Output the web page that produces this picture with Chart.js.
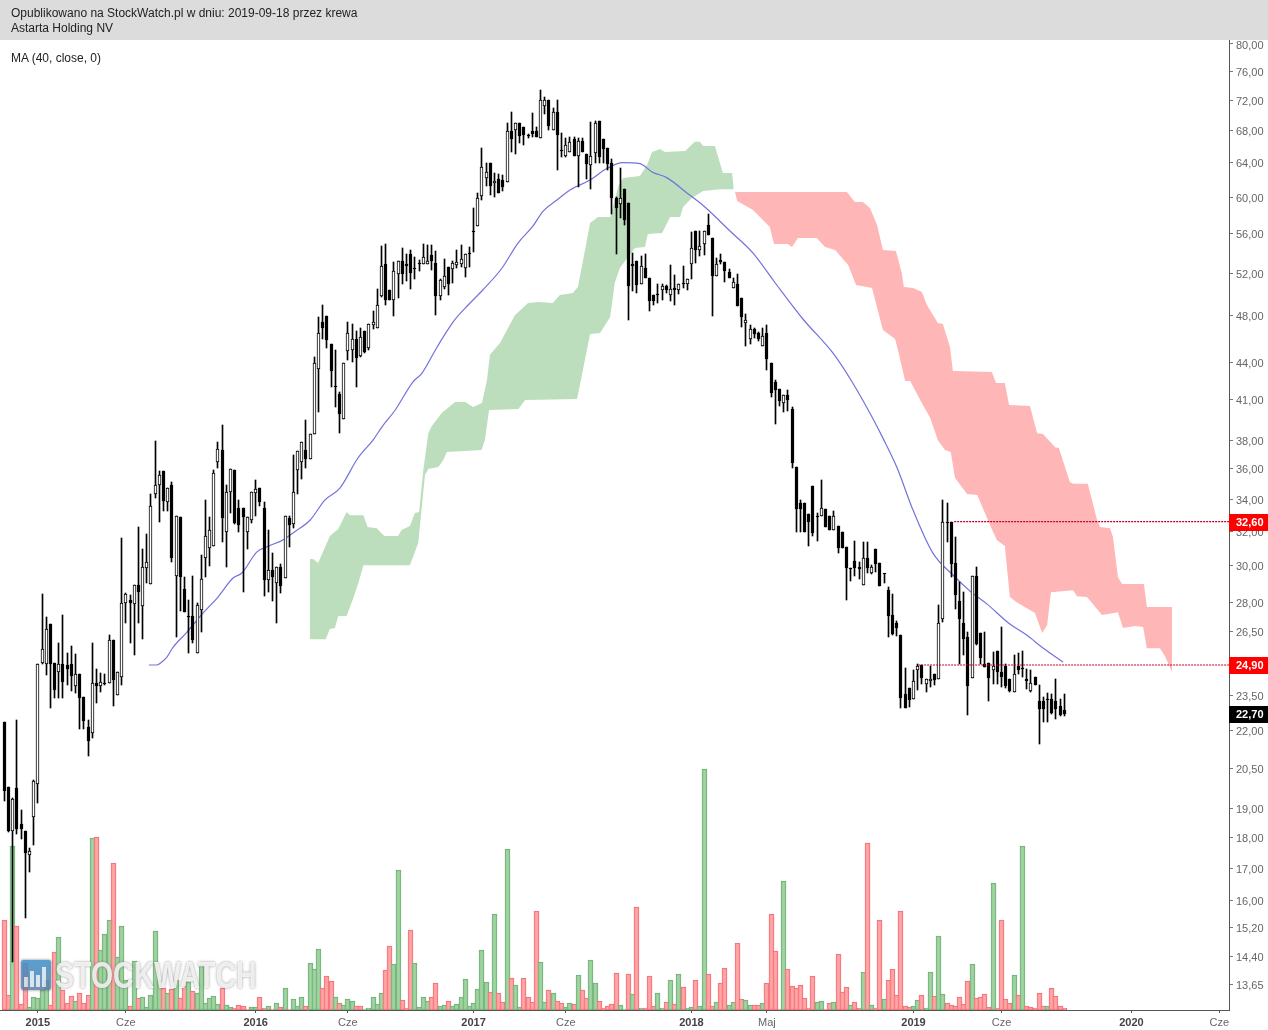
<!DOCTYPE html>
<html lang="pl">
<head>
<meta charset="utf-8">
<title>Astarta Holding NV</title>
<script src="https://cdn.jsdelivr.net/npm/chart.js@4"></script>
<style>
  html, body { margin: 0; padding: 0; background: #fff; }
  #wrap { position: relative; width: 1268px; height: 1030px; overflow: hidden; font-family: "Liberation Sans", Arial, sans-serif; }
  #chart { position: absolute; left: 0; top: 0; }
  #head { position: absolute; left: 0; top: 0; width: 1268px; height: 40px; background: #dcdcdc; color: #222; font-size: 12px; line-height: 15px; }
  #head div { position: absolute; left: 11px; white-space: nowrap; }
  #ma { position: absolute; left: 11px; top: 51px; font-size: 12px; line-height: 15px; color: #222; }
  #logo { position: absolute; left: 21px; top: 960px; width: 30px; height: 30px; border-radius: 2px; opacity: .85;
    background: linear-gradient(#3d8ec8, #5a7fa8); box-shadow: 0 0 3px rgba(70,70,70,.8); }
  #logo i { position: absolute; bottom: 3px; width: 4px; background: rgba(255,255,255,.75); }
  #mark { position: absolute; left: 55px; top: 955px; font-size: 37px; line-height: 42px; font-weight: bold; white-space: nowrap;
    color: rgba(255,255,255,.82); text-shadow: 0 0 3px rgba(90,90,90,.65); transform: scaleX(.77); transform-origin: 0 0; }
</style>
</head>
<body>
<div id="wrap">
  <canvas id="chart" width="1268" height="1030"></canvas>
  <div id="head">
    <div style="top:6px">Opublikowano na StockWatch.pl w dniu: 2019-09-18 przez krewa</div>
    <div style="top:21px">Astarta Holding NV</div>
  </div>
  <div id="ma">MA (40, close, 0)</div>
  <div id="logo"><i style="left:3px;height:10px"></i><i style="left:9px;height:16px"></i><i style="left:15px;height:12px"></i><i style="left:21px;height:20px"></i></div>
  <div id="mark">STOCKWATCH</div>
</div>
<script>
// Wartosci, tygodnie 0..253
const openPrices = [
  22.37,19.79,18.22,19.75,18.47,18.22,17.42,18.71,19.91,24.99,
  24.94,26.89,24.99,24.57,24.94,24.89,24.94,23.93,24.47,23.44,
  22.16,21.91,24.06,23.93,24.06,24.06,26.09,23.53,24.34,27.97,
  28.13,27.92,28.93,27.81,29.87,29.0,34.33,34.92,35.85,33.82,
  34.92,29.43,32.89,28.71,27.3,27.3,25.47,27.61,30.45,31.03,
  31.14,36.46,37.29,31.97,34.46,35.92,33.44,33.44,31.97,32.7,
  34.39,34.72,33.44,29.21,29.76,29.05,29.93,29.32,32.82,32.45,
  35.92,36.46,37.29,36.67,38.43,43.43,47.44,48.0,45.52,42.0,
  41.43,39.54,44.92,45.01,45.95,44.5,46.64,45.18,47.17,46.9,
  49.81,52.91,50.38,49.44,51.92,53.2,52.91,53.91,52.44,52.93,
  52.91,52.91,53.81,53.0,49.81,50.67,52.6,52.41,52.81,52.91,
  52.51,54.01,56.2,56.83,60.12,62.18,63.97,61.6,62.06,61.95,
  61.72,67.93,68.06,68.96,68.44,67.43,67.93,67.93,67.05,71.15,
  72.0,68.06,70.43,65.45,64.82,65.3,66.92,64.82,66.67,65.05,
  63.73,65.18,69.22,66.92,65.79,63.97,59.89,59.23,60.91,59.34,
  52.91,53.2,50.96,52.51,51.53,49.91,49.93,50.38,50.77,49.91,
  50.58,50.38,51.05,50.96,52.91,56.29,54.32,54.93,56.93,55.56,
  51.72,53.3,53.1,52.11,50.58,50.96,49.63,47.35,45.95,46.82,
  46.47,45.35,46.47,43.92,42.38,41.83,40.74,41.36,40.28,36.12,
  33.76,33.76,33.07,34.85,32.91,32.95,33.38,32.95,32.09,32.33,
  31.97,31.08,29.87,30.28,29.93,28.93,30.45,29.6,30.97,30.16,
  29.56,28.66,27.35,26.94,26.34,23.57,23.84,23.35,24.66,24.89,
  24.02,24.15,24.47,24.25,27.14,32.58,32.58,30.16,28.08,26.94,
  26.24,24.29,29.43,26.44,24.94,24.99,24.66,25.56,24.57,24.85,
  24.25,23.66,24.85,24.77,24.25,23.71,24.34,23.27,23.27,23.37,
  23.35,23.27,23.05,22.87
];
const closePrices = [
  19.64,18.22,19.35,18.29,18.29,17.49,17.56,20.02,24.94,25.66,
  26.64,24.94,23.75,24.94,24.11,24.7,24.38,24.47,23.4,22.41,
  21.58,24.06,23.93,24.11,24.02,26.09,24.2,24.57,27.97,28.45,
  27.97,28.93,28.55,29.93,30.22,33.57,34.92,35.58,33.88,34.72,
  30.45,32.95,29.37,27.5,27.27,26.09,27.87,29.26,31.73,32.09,
  35.72,37.36,32.82,34.46,35.99,32.52,32.4,32.89,32.89,34.46,
  34.65,33.82,29.21,29.76,29.37,29.93,28.88,32.95,32.4,34.46,
  37.22,37.86,36.67,38.43,43.92,46.47,46.9,45.86,43.27,41.95,
  39.9,43.92,46.47,45.95,44.34,46.12,44.84,47.26,47.44,48.98,
  52.71,49.44,49.44,52.21,53.2,51.92,52.71,52.02,52.38,52.88,
  53.6,53.2,53.2,49.81,51.34,51.72,50.96,53.0,53.1,53.4,
  53.91,53.91,56.14,59.89,63.49,62.89,61.26,61.83,60.45,61.14,
  67.93,66.92,68.96,67.3,67.43,67.3,67.55,67.17,72.0,72.0,
  68.57,70.43,67.43,65.38,66.17,66.55,64.82,66.67,65.3,63.85,
  64.82,68.96,64.7,65.67,63.85,59.89,58.78,59.89,57.47,50.77,
  52.71,50.87,52.71,51.53,49.35,49.35,49.89,50.77,50.38,50.48,
  50.38,50.96,50.96,51.43,54.52,54.32,54.73,56.29,55.88,51.72,
  52.91,53.1,52.21,51.53,51.14,48.89,47.89,47.62,46.82,46.38,
  45.95,46.21,44.25,41.52,41.75,40.89,41.36,40.97,36.39,33.38,
  33.38,31.97,32.58,31.91,32.87,33.44,32.27,32.09,32.95,31.03,
  31.03,29.87,29.82,29.87,29.82,30.45,29.87,29.93,30.1,28.88,
  29.52,27.3,26.39,26.69,23.4,22.96,23.31,24.15,24.85,24.29,
  24.25,24.25,24.2,26.94,32.58,32.52,30.1,28.39,27.14,26.14,
  23.93,29.43,25.9,25.23,24.8,24.29,24.85,24.57,24.34,23.93,
  23.71,24.47,24.66,24.73,24.15,24.06,23.97,22.92,22.92,23.33,
  22.75,22.92,22.66,22.7
];
const highPrices = [
  22.37,19.79,19.39,22.45,18.96,18.22,17.66,20.06,24.94,28.45,
  27.25,26.89,24.99,25.95,27.35,25.47,25.8,25.42,24.47,23.44,
  22.45,25.95,24.7,24.52,24.47,26.34,26.09,24.57,31.61,28.5,
  28.39,28.93,32.27,30.97,31.85,34.33,37.93,35.85,35.85,34.72,
  35.12,32.95,32.89,29.37,28.13,29.43,27.97,30.62,33.95,32.89,
  35.92,37.86,39.09,34.92,35.99,35.92,33.95,33.44,32.89,34.46,
  35.25,34.72,33.82,32.09,30.74,29.93,30.1,32.95,32.95,36.94,
  37.22,37.86,39.46,38.43,44.42,47.89,48.98,48.0,45.52,45.01,
  41.59,43.92,47.44,47.26,46.64,46.9,46.64,47.26,48.43,50.48,
  54.73,54.93,50.38,53.1,53.2,54.52,53.91,54.32,53.6,53.3,
  54.93,54.83,54.83,54.22,51.43,53.4,52.6,53.2,54.32,54.83,
  53.91,54.62,58.78,60.45,65.79,63.97,63.97,62.77,62.65,62.53,
  68.96,70.43,68.96,68.96,68.44,67.55,70.26,68.44,73.37,72.43,
  72.0,70.93,72.0,67.68,67.05,67.17,67.17,67.05,67.05,65.05,
  69.09,69.22,69.22,66.92,65.79,64.45,60.0,63.37,60.91,59.34,
  54.01,53.2,53.7,53.91,51.53,49.91,50.96,50.96,50.87,52.8,
  51.82,50.96,52.71,51.43,56.18,56.29,56.29,56.29,58.12,55.56,
  53.5,53.91,53.1,52.41,51.53,51.92,49.63,48.16,47.17,46.9,
  46.55,46.9,47.17,43.92,42.54,41.83,41.36,41.75,40.44,36.12,
  33.95,33.76,33.07,34.85,33.13,35.25,33.38,32.95,33.26,32.33,
  31.97,31.08,29.87,31.43,30.22,31.37,31.37,30.04,30.97,30.16,
  29.56,28.82,28.45,27.04,26.34,24.75,23.84,24.66,24.94,24.89,
  24.25,24.85,24.47,27.87,33.95,33.76,32.58,31.67,29.1,28.55,
  26.49,29.43,29.93,26.44,26.49,24.99,25.52,25.56,26.74,24.94,
  24.25,25.37,25.47,25.56,24.7,24.66,24.34,23.97,23.44,23.62,
  23.57,24.25,23.35,23.57
];
const lowPrices = [
  19.28,18.19,14.25,18.12,17.95,15.48,16.88,17.75,19.21,24.94,
  24.43,22.96,23.4,23.4,23.4,23.97,23.71,23.62,22.07,22.07,
  20.98,21.7,23.18,23.66,23.97,24.06,23.05,23.53,23.97,26.94,
  25.95,25.37,26.94,26.14,29.05,29.0,34.08,32.58,33.26,33.26,
  30.22,26.24,27.55,27.5,25.47,25.95,25.47,26.49,29.37,29.99,
  31.14,36.05,31.37,29.93,33.13,32.45,31.97,28.55,30.97,32.52,
  32.95,33.57,28.34,28.55,28.08,26.94,28.5,29.32,31.08,32.2,
  34.33,35.32,36.05,36.67,38.43,40.06,45.95,45.18,41.98,40.44,
  38.5,39.54,44.17,44.0,41.98,44.42,44.75,45.01,46.82,46.9,
  49.72,48.98,49.44,47.98,49.63,50.96,51.24,50.48,51.43,52.21,
  52.91,52.91,52.31,48.07,49.44,50.48,49.91,51.05,52.51,52.61,
  51.62,52.61,54.11,56.83,59.67,61.26,60.23,60.0,60.45,60.68,
  61.72,65.3,65.05,66.42,66.17,67.05,67.17,67.17,67.05,70.14,
  68.06,68.06,63.13,64.7,64.7,65.3,64.82,61.14,65.3,62.07,
  60.91,63.97,63.97,63.97,63.13,58.12,53.91,57.69,56.93,47.62,
  50.29,50.1,50.96,51.53,48.43,48.98,49.16,49.44,50.1,49.35,
  48.98,50.0,50.58,50.38,51.43,53.0,53.7,53.81,55.88,47.98,
  51.72,52.91,51.14,51.53,50.58,48.89,46.99,45.35,45.52,46.03,
  45.78,45.35,43.35,41.21,39.16,40.51,40.06,40.13,36.05,31.97,
  31.97,31.97,31.14,31.73,31.43,32.95,32.27,32.09,32.09,30.74,
  31.03,28.13,29.15,29.43,29.26,28.93,29.6,29.54,29.65,28.88,
  29.05,26.24,26.34,26.29,22.96,22.96,23.0,23.35,23.75,24.02,
  23.66,23.88,23.97,24.25,26.99,31.37,29.37,27.66,24.94,25.37,
  22.66,24.29,25.85,24.94,24.8,23.27,24.02,24.02,23.88,23.84,
  23.66,23.66,24.47,24.34,23.79,23.66,23.97,21.46,22.37,22.37,
  22.7,22.49,22.62,22.62
];

// Wolumen w jednostkach umownych (osi nie ma na wykresie)
const volumes = [
  90,15,164,84,6,47,3,13,12,20,
  30,5,58,73,20,7,14,9,17,7,
  15,172,173,60,76,90,147,53,84,30,
  4,49,12,13,3,15,79,30,22,17,
  21,30,12,24,28,19,17,45,7,12,
  14,6,22,5,3,2,5,4,1,3,
  3,13,2,4,1,7,3,22,1,11,
  4,13,4,47,41,61,22,34,29,13,
  7,5,11,9,4,4,0,2,13,6,
  17,40,64,46,140,10,2,80,47,3,
  13,9,13,27,4,5,9,4,6,13,
  31,4,7,21,60,28,18,96,17,8,
  161,32,25,3,32,13,8,99,48,8,
  20,17,9,7,3,7,6,35,20,12,
  50,27,9,2,4,6,37,5,1,36,
  16,103,2,2,34,4,17,2,8,30,
  6,36,23,2,3,30,4,241,36,4,
  8,27,42,5,8,67,11,10,5,5,
  5,7,27,96,59,1,129,41,24,22,
  25,12,2,34,8,9,1,7,8,56,
  18,23,5,8,2,38,167,5,2,90,
  11,30,41,15,99,4,3,4,10,15,
  2,38,14,74,16,7,5,4,13,6,
  29,46,12,13,16,3,127,2,90,11,
  7,35,15,164,4,3,2,17,4,4,
  22,14,4,2
];
const volumeSides = 'rrgrrrgggg' + 'grrgrrrgrr' + 'rgrgggrggg' + 'rgrgggggrg' + 'rgrrgrgggg' +
  'ggrggrrrrg' + 'grrgrgrgrg' + 'ggrgggrrrg' + 'rgggrrgggg' + 'grrggrrrgg' +
  'ggrrggrggg' + 'ggggggrgrr' + 'grggrrrrgg' + 'rgrrggrgrr' + 'ggrrrrrggr' +
  'grgrrrggrg' + 'rgrggrggrr' + 'grrggrrggr' + 'rgrrrrgrrr' + 'rrrrggrrgr' +
  'rrgrrgrgrr' + 'grrrrrrggr' + 'ggrggrrrrr' + 'rgrrrrgrrr' + 'rgrgrrrrrg' + 'rrrr';

// Srednia MA(40)
const maWeeks = [34.5,36.4,37.6,38.8,40.3,43.6,47.4,50.8,54.6,56.7,60.3,62.7,66.5,69.4,73,76.5,80.1,84.4,88,90.1,93.3,97.5,99.7,103.3,107.1,110.7,114.2,118.8,122.6,126.2,128.6,131.9,135,139.8,143.8,147.7,151.7,154.6,158.2,163,167.2,173.2,178.7,184,190.6,197.8,202.5,207.1,209.7,213.1,216.6,221.6,226.4,230.5,234.5,240,244,247.9,252.7];
const maPrices = [24.9,24.9,25.04,25.27,25.75,26.49,27.45,28.24,29.32,29.6,30.8,31.1,31.5,32,32.7,33.95,34.72,36.74,38,38.94,40.21,42.38,43.1,45.27,47.44,48.98,50.38,52.51,55.03,56.83,58.44,59.67,60.8,61.95,63.3,64,63.9,62.9,62.2,60.44,58.89,56.29,54,51.05,47.71,44.74,42.3,39.68,38.14,36.06,33.5,30.74,29.49,28.61,27.93,26.89,26.34,25.71,25.04];

// Chmura - czesc zielona
const greenTopWeeks = [72.9,73.7,74.9,77.7,79.7,81.7,82.5,85.7,86.7,88.9,90.7,94,94.8,96.8,98,99,100,101.2,102,104.4,107.6,110,111.9,114,115.2,115.9,118.3,121.9,125,127.4,130.9,132.6,135.7,136.9,138.6,139.8,141.7,144.6,146.5,147.7,151.7,153.4,154.6,156.5,157.7,162.5,164.8,166,166.8,169.6,171.5,173.7,174.1];
const greenTopPrices = [30.39,30.39,30.16,31.73,32.15,33.2,33,33,32.27,32.2,31.73,31.73,32.09,32.33,33.13,33.2,35.92,38.5,39,39.98,40.82,40.82,40.43,40.74,42.54,44.6,45.6,48.07,49.16,49.25,49.16,49.9,50.1,50.67,54.32,57.14,57.8,57.8,61.14,62.2,62.43,63.73,65.3,65.67,65.3,65.43,66.56,66.56,66.05,66.05,62.77,62.77,60.9];
const greenBottomWeeks = [72.9,76.7,77.7,78.9,79.7,81.7,83.3,84.5,85.7,96.8,98.8,99.5,100.4,101.2,103.6,104.8,105.6,113.9,114.7,115.7,122.7,124.3,136.7,138.1,139.8,142.2,144.6,145.7,146.9,150.5,152.9,153.6,157,158.9,161.3,162,164.1,166.8,170.8,174.1];
const greenBottomPrices = [26.14,26.14,26.64,26.69,27.3,27.3,28.24,29.05,30.04,30.04,31.31,33.13,35.58,35.99,36.12,36.6,37.15,37.29,38,40.21,40.28,40.97,41.05,43.35,46.38,46.47,47.89,51.05,52.51,54.52,54.63,55.98,56.08,57.8,57.8,58.89,59.89,60.68,60.9,60.9];

// Chmura - czesc czerwona
const redTopWeeks = [174.4,201.1,203,204.9,206.6,208.3,209.7,212.8,214.2,214.7,216.9,219,220.2,222.8,224,225.7,226.4,235.7,236.7,238.8,239.8,244.8,246.5,247.9,250.8,251.7,254.3,255.1,258.6,260.8,261.5,263.9,264.6,265.8,266.8,272,272.7,278.7];
const redTopPrices = [60.56,60.56,59.45,59.45,58.78,56.93,54.32,54.21,52.02,50.67,50.58,50.2,48.98,47.35,47.26,45.27,43.27,43.19,42.3,42.3,40.59,40.51,38.5,38.43,37.5,37.43,35.12,35,35,32.7,32.27,32.2,31.67,29.37,29,29,27.77,27.77];
const redBottomWeeks = [174.4,174.9,178.7,182.7,183.7,187,188,189.4,193.9,195.9,198.3,201.4,203.3,207.1,209.7,212.6,213.3,215,216.2,218.6,221,222.8,224.5,225.9,226.9,229.8,232.2,236,236.9,238.8,240,241.7,246,247.7,248.9,249.8,255.1,256,258.4,262,265.8,267,269.9,271.8,272.7,275.8,277,278.7];
const redBottomPrices = [60.56,59.56,58.56,56.72,54.92,54.92,54.62,55.56,55.56,54.62,54.32,52.8,50.87,50.58,46.73,45.95,45.01,42.46,42.46,40.97,39.61,38,37.29,37.15,35.38,34.33,34.27,31.97,31.49,31.14,28.29,28,27.46,26.44,26.84,28.55,28.66,28.34,28.29,27.35,27.5,26.69,26.79,26.74,25.7,25.7,25.32,24.57];

// Poziomy, etykiety na osi
const levelPrices = [32.6, 24.9];
const levelStartWeeks = [226.7, 218.1];
const priceBadges = [32.6, 24.9, 22.7];
const badgeColors = ['#ff0000', '#ff0000', '#000000'];

const priceTicks = [80,76,72,68,64,60,56,52,48,44,41,38,36,34,32,30,28,26.5,23.5,22,20.5,19,18,17,16,15.2,14.4,13.65];
const timeTickWeeks = [8,29,60,82,112,134,164,182,217,238,269,290];
const timeTickLabels = ['2015','Cze','2016','Cze','2017','Cze','2018','Maj','2019','Cze','2020','Cze'];

const FONT = '"Liberation Sans", Arial, sans-serif';
const fmt = v => v.toFixed(2).replace('.', ',');
const toPoints = (xs, ys) => xs.map((x, i) => ({ x, y: ys[i] }));
const weeks = openPrices.map((_, i) => i);
const isYearTick = ctx => !!ctx.tick && /^\d/.test(ctx.tick.label);

// Kreski na pelne piksele, inaczej swiece sie rozmywaja
const snapBars = {
  id: 'snapBars',
  afterDatasetsUpdate(chart) {
    chart.getSortedVisibleDatasetMetas().forEach(meta => {
      if (meta.type !== 'bar') return;
      meta.data.forEach(el => {
        el.x = Math.floor(el.x) + 0.5;
        el.y = Math.round(el.y);
        el.base = Math.round(el.base);
        if (el.y === el.base) el.y -= 1;
      });
    });
  },
};

// Etykiety osi cen leza w oryginale nieco nizej niz kreski
const nudgeLabels = {
  id: 'nudgeLabels',
  beforeDraw(chart) {
    chart.scales.y.getLabelItems().forEach(item => { item.options.translation[1] += 1.5; });
  },
};

const badges = {
  id: 'badges',
  afterDraw(chart) {
    const { ctx, scales, chartArea } = chart;
    ctx.save();
    ctx.font = 'bold 11px ' + FONT;
    ctx.textBaseline = 'middle';
    priceBadges.forEach((p, i) => {
      const y = Math.round(scales.y.getPixelForValue(p));
      ctx.fillStyle = badgeColors[i];
      ctx.fillRect(chartArea.right, y - 8, 1268 - chartArea.right, 17);
      ctx.fillStyle = '#fff';
      ctx.fillText(fmt(p), chartArea.right + 7, y + 1);
    });
    ctx.restore();
  },
};

const datasets = [
  {
    type: 'bar', yAxisID: 'yVol', order: 9, barThickness: 5, borderWidth: 1, borderSkipped: false,
    data: volumes.map((v, i) => ({ x: i, y: v })),
    backgroundColor: volumes.map((_, i) => volumeSides[i] === 'g' ? 'rgba(145,205,145,.85)' : 'rgba(255,150,150,.85)'),
    borderColor: volumes.map((_, i) => volumeSides[i] === 'g' ? '#74b07b' : '#f0727a'),
  },
  {
    type: 'line', order: 8, data: toPoints(greenTopWeeks, greenTopPrices), fill: '+1',
    backgroundColor: '#bcdebc', borderWidth: 0, pointRadius: 0,
  },
  {
    type: 'line', order: 8, data: toPoints(greenBottomWeeks, greenBottomPrices),
    borderWidth: 0, pointRadius: 0,
  },
  {
    type: 'line', order: 7, data: toPoints(redTopWeeks, redTopPrices), fill: '+1',
    backgroundColor: '#ffb6b6', borderWidth: 0, pointRadius: 0,
  },
  {
    type: 'line', order: 7, data: toPoints(redBottomWeeks, redBottomPrices),
    borderWidth: 0, pointRadius: 0,
  },
  {
    type: 'line', order: 6, data: toPoints(maWeeks, maPrices), cubicInterpolationMode: 'monotone',
    borderColor: '#7272dc', borderWidth: 1.2, pointRadius: 0,
  },
  {
    type: 'bar', order: 3, barThickness: 1, backgroundColor: '#000', borderWidth: 0,
    data: weeks.map(i => ({ x: i, y: [lowPrices[i], highPrices[i]] })),
  },
  {
    type: 'bar', order: 2, barThickness: 3, borderWidth: 1, borderColor: '#000', borderSkipped: false,
    data: weeks.map(i => ({ x: i, y: [openPrices[i], closePrices[i]] })),
    backgroundColor: weeks.map(i => closePrices[i] >= openPrices[i] ? '#fff' : '#000'),
  },
];
levelPrices.forEach((p, i) => {
  datasets.push({
    type: 'line', order: 1, pointRadius: 0, borderColor: '#c0002a', borderWidth: 1.2, borderDash: [2, 1],
    data: [{ x: levelStartWeeks[i], y: p }, { x: 292.3, y: p }],
  });
});

new Chart(document.getElementById('chart'), {
  type: 'bar',
  data: { datasets },
  plugins: [snapBars, nudgeLabels, badges],
  options: {
    responsive: false,
    animation: false,
    events: [],
    layout: { padding: { top: 40 } },
    datasets: { bar: { grouped: false } },
    plugins: { legend: { display: false }, tooltip: { enabled: false } },
    scales: {
      x: {
        type: 'linear', min: -1.03, max: 292.3, bounds: 'data', offset: false,
        afterBuildTicks: s => { s.ticks = timeTickWeeks.map(value => ({ value })); },
        afterFit: s => { s.height = 20; },
        border: { color: '#555' },
        grid: { drawOnChartArea: false, offset: false, tickLength: 3, color: '#555' },
        ticks: {
          autoSkip: false, maxRotation: 0, padding: 3,
          callback: v => timeTickLabels[timeTickWeeks.indexOf(v)],
          color: ctx => isYearTick(ctx) ? '#444' : '#666',
          font: ctx => ({ family: FONT, size: 11, weight: isYearTick(ctx) ? 'bold' : 'normal' }),
        },
      },
      y: {
        type: 'logarithmic', position: 'right', min: 13.02, max: 80.6, bounds: 'data',
        afterBuildTicks: s => { s.ticks = priceTicks.map(value => ({ value })); },
        afterFit: s => { s.width = 39; },
        border: { color: '#555' },
        grid: { drawOnChartArea: false, tickLength: 4, color: '#777' },
        ticks: {
          autoSkip: false, padding: 3, color: '#666',
          font: { family: FONT, size: 11 },
          callback: v => fmt(v),
        },
      },
      yVol: { type: 'linear', display: false, min: 0, max: 970 },
    },
  },
});
</script>
</body>
</html>
